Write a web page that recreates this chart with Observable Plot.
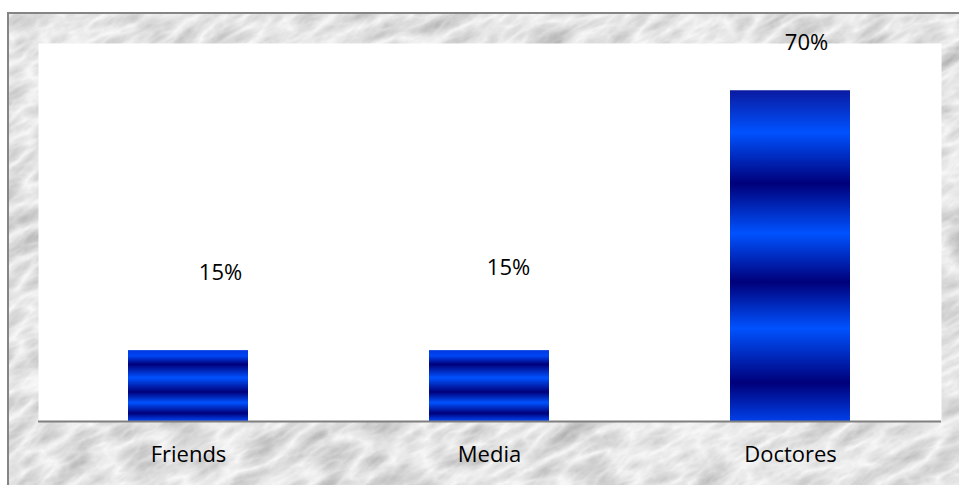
<!DOCTYPE html>
<html>
<head>
<meta charset="utf-8">
<script src="https://cdn.jsdelivr.net/npm/d3@7"></script>
<script src="https://cdn.jsdelivr.net/npm/@observablehq/plot@0.6"></script>
<style>
  html, body { margin: 0; padding: 0; background: #ffffff; }
  #chart { width: 959px; height: 485px; overflow: hidden; }
</style>
</head>
<body>
<div id="chart"></div>
<script>
// ---- data ----
const categories = ["Friends", "Media", "Doctores"];
const values = [15, 15, 70];
const valueLabels = ["15%", "15%", "70%"];
// label positions (in y units)
const labelPos = [31.5, 32.6, 80.2];

// ---- styles ----
const labelDx = [32, 19, 16];
const gradDark = "#00007a", gradBright = "#0052ff";
const gradients = [
  [[0, "#0038e0"], [0.08, "#0046f5"], [0.2, gradDark], [0.39, gradBright], [0.59, gradDark], [0.74, gradBright], [0.89, gradDark], [1, "#0046f5"]],
  [[0, "#0038e0"], [0.08, "#0046f5"], [0.2, gradDark], [0.39, gradBright], [0.59, gradDark], [0.74, gradBright], [0.89, gradDark], [1, "#0046f5"]],
  [[0, "#0a1aa0"], [0.127, gradBright], [0.282, gradDark], [0.433, gradBright], [0.58, gradDark], [0.72, gradBright], [0.885, gradDark], [1, "#0040e8"]]
];

const data = categories.map((c, i) => ({
  category: c, value: values[i], label: valueLabels[i], pos: labelPos[i], fill: `url(#barGrad${i})`
}));

const font = "'Open Sans', 'DejaVu Sans', sans-serif";

const svg = Plot.plot({
  width: 959,
  height: 485,
  marginLeft: 38,
  marginRight: 18,
  marginTop: 43,
  marginBottom: 64,
  style: { fontFamily: font, fontSize: "22px", background: "transparent", color: "#000" },
  x: { domain: categories, paddingInner: 0.6, paddingOuter: 0.3, label: null },
  y: { domain: [0, 80], axis: null },
  color: { type: "identity" },
  marks: [
    Plot.frame({ fill: "white", stroke: null }),
    Plot.barY(data, { x: "category", y: "value", fill: "fill" }),
    Plot.ruleY([0], { stroke: "#7f7f7f", strokeWidth: 2 }),
    ...data.map((d, i) => Plot.text([d], {
      x: "category", y: "pos", text: "label", dx: labelDx[i],
      fontSize: 22, fill: "#000"
    })),
    Plot.axisX({ tickSize: 0, tickPadding: 25, fontSize: 22, fill: "#000", label: null })
  ]
});

// background marble texture and gradients
const s = d3.select(svg);
const defs = s.insert("defs", ":first-child");
gradients.forEach((stops, i) => {
  const g = defs.append("linearGradient").attr("id", `barGrad${i}`)
    .attr("x1", 0).attr("y1", 0).attr("x2", 0).attr("y2", 1);
  stops.forEach(([o, c]) => g.append("stop").attr("offset", o).attr("stop-color", c));
});
const f = defs.append("filter").attr("id", "marble")
  .attr("x", 0).attr("y", 0).attr("width", 1).attr("height", 1);
f.append("feTurbulence").attr("type", "turbulence")
  .attr("baseFrequency", "0.018 0.045").attr("numOctaves", 4).attr("seed", 11).attr("result", "t");
f.append("feColorMatrix").attr("type", "matrix")
  .attr("values", "-0.6 0 0 0 0.96  -0.6 0 0 0 0.96  -0.6 0 0 0 0.96  0 0 0 0 1");
defs.append("clipPath").attr("id", "bgclip")
  .append("rect").attr("x", 8).attr("y", 13).attr("width", 960).attr("height", 480);
const bg = s.insert("g", "defs + *");
bg.append("g").attr("clip-path", "url(#bgclip)")
  .append("g").attr("transform", "rotate(-28 480 250)")
  .append("rect").attr("x", -300).attr("y", -400).attr("width", 1600).attr("height", 1300)
  .attr("fill", "#e8e8e8").attr("filter", "url(#marble)");
bg.append("rect").attr("x", 8).attr("y", 13).attr("width", 960).attr("height", 480)
  .attr("fill", "none").attr("stroke", "#858585").attr("stroke-width", 2);

document.getElementById("chart").appendChild(svg);
</script>
</body>
</html>
